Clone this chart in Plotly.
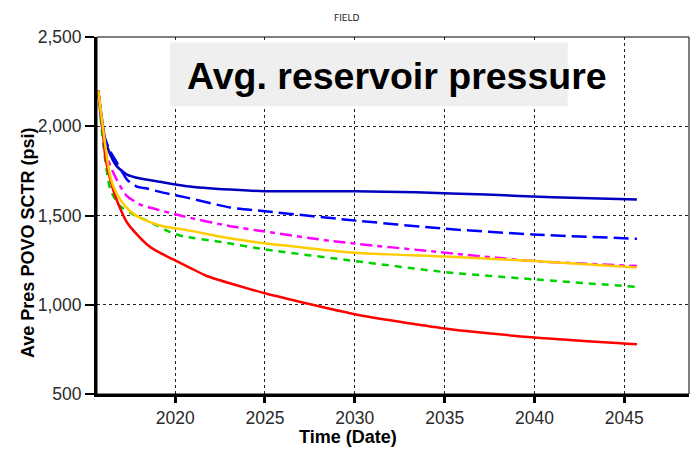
import plotly.graph_objects as go

# Field average reservoir pressure forecasts (decimal year, psi)
yr_base = [2015.72, 2016.11, 2016.39, 2016.76, 2017.32, 2018.06, 2018.98, 2020.65,
           2023.06, 2025.0, 2030.0, 2033.4, 2037.3, 2041.0, 2045.7]
p_base = [2200, 1925, 1841, 1775, 1729, 1707, 1692, 1664,
          1645, 1636, 1636, 1630, 1617, 1602, 1589]

yr_case2 = [2015.72, 2016.0, 2016.39, 2016.76, 2017.32, 2017.87, 2018.43, 2019.33,
            2020.65, 2023.06, 2025.0, 2029.7, 2035.0, 2039.9, 2045.7]
p_case2 = [2200, 1960, 1860, 1796, 1701, 1662, 1651, 1628,
           1600, 1545, 1524, 1475, 1426, 1394, 1370]

yr_case3 = [2015.72, 2016.0, 2016.2, 2016.56, 2016.94, 2017.32, 2018.06, 2018.98,
            2020.44, 2023.06, 2025.0, 2028.8, 2035.0, 2039.9, 2045.7]
p_case3 = [2200, 1950, 1831, 1740, 1664, 1608, 1561, 1534,
           1496, 1440, 1410, 1356, 1292, 1245, 1217]

yr_case4 = [2015.72, 2016.0, 2016.39, 2016.94, 2017.67, 2018.61, 2019.72, 2020.44,
            2022.7, 2025.0, 2030.0, 2035.0, 2040.0, 2045.7]
p_case4 = [2200, 1900, 1645, 1552, 1506, 1463, 1407, 1384,
           1349, 1310, 1245, 1183, 1142, 1100]

yr_case5 = [2015.72, 2016.0, 2016.11, 2016.39, 2016.67, 2017.04, 2017.32, 2017.87,
            2018.43, 2018.98, 2019.89, 2020.83, 2021.76, 2025.0, 2030.0, 2035.0,
            2040.0, 2045.7]
p_case5 = [2200, 1950, 1831, 1701, 1608, 1517, 1461, 1394,
           1338, 1300, 1254, 1207, 1161, 1064, 947, 867,
           817, 779]

yr_case6 = [2015.72, 2016.0, 2016.28, 2016.56, 2016.94, 2017.5, 2018.22, 2019.33,
            2020.65, 2023.06, 2025.0, 2030.0, 2035.0, 2040.0, 2045.7]
p_case6 = [2200, 1980, 1775, 1664, 1589, 1524, 1478, 1440,
           1418, 1372, 1344, 1292, 1270, 1245, 1208]

x_ticks = [2020, 2025, 2030, 2035, 2040, 2045]
y_ticks = [500, 1000, 1500, 2000, 2500]

series = [
    (yr_base, p_base, "rgb(0,0,190)", "solid"),
    (yr_case2, p_case2, "rgb(0,0,255)", "15px,6px"),
    (yr_case3, p_case3, "rgb(255,0,255)", "12px,5px,5px,5px"),
    (yr_case4, p_case4, "rgb(0,210,0)", "7px,6px"),
    (yr_case5, p_case5, "rgb(255,0,0)", "solid"),
    (yr_case6, p_case6, "rgb(255,204,0)", "solid"),
]

fig = go.Figure()
for xs, ys, col, dash in series:
    fig.add_trace(go.Scatter(x=xs, y=ys, mode="lines",
                             line=dict(color=col, width=2.5, dash=dash, shape="spline",
                                       smoothing=0.6),
                             showlegend=False, hoverinfo="skip"))

tick_font = dict(family="Arial, Liberation Sans", size=17.5, color="#2a2a2a")
fig.update_xaxes(range=[2015.65, 2048.6], tickvals=x_ticks, ticks="outside", ticklen=6,
                 tickwidth=3, tickcolor="black", showline=True, linewidth=3, linecolor="black",
                 showgrid=True, gridcolor="#222", gridwidth=1, griddash="3px,3px",
                 zeroline=False, tickfont=tick_font)
fig.update_yaxes(range=[500, 2500], tickvals=y_ticks, tickformat=",", ticks="outside",
                 ticklen=9, tickwidth=1.5, tickcolor="black", showline=True, linewidth=3,
                 linecolor="black", showgrid=True, gridcolor="#222", gridwidth=1,
                 griddash="3px,3px", zeroline=False, tickfont=tick_font)

# thin frame on top/right, gray title box
fig.add_shape(type="rect", xref="paper", yref="paper", x0=0, x1=1, y0=0, y1=1,
              line=dict(color="black", width=1), layer="above")
fig.add_shape(type="rect", xref="x", yref="y", x0=2019.72, x1=2041.85, y0=2112, y1=2469,
              line=dict(width=0), fillcolor="#efefef", layer="above")

fig.add_annotation(text="<b>Avg. reservoir pressure</b>", xref="x", yref="y",
                   x=2032.37, y=2282, xanchor="center", yanchor="middle", showarrow=False,
                   font=dict(family="Arial, Liberation Sans", size=37.5, color="black"))
fig.add_annotation(text="FIELD", xref="paper", yref="paper", x=(347 - 97) / 592,
                   y=1 + 19 / 357, xanchor="center", yanchor="middle", showarrow=False,
                   font=dict(family="DejaVu Sans", size=9, color="#222"))
fig.add_annotation(text="<b>Time (Date)</b>", xref="paper", yref="paper",
                   x=(348 - 97) / 592, y=-(437 - 394) / 357, xanchor="center",
                   yanchor="middle", showarrow=False,
                   font=dict(family="Arial, Liberation Sans", size=18, color="black"))
fig.add_annotation(text="<b>Ave Pres POVO SCTR (psi)</b>", xref="paper", yref="paper",
                   x=-(97 - 28) / 592, y=(394 - 243) / 357, xanchor="center",
                   yanchor="middle", textangle=-90, showarrow=False,
                   font=dict(family="Arial, Liberation Sans", size=18, color="black"))

fig.update_layout(width=693, height=454, margin=dict(l=97, r=4, t=37, b=60),
                  plot_bgcolor="white", paper_bgcolor="white")

fig.write_html("out.html")
